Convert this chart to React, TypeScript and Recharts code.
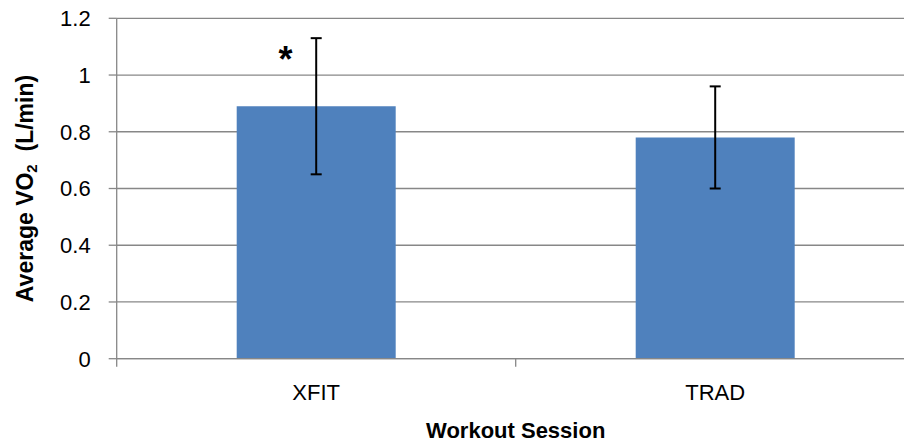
import { BarChart, Bar, XAxis, YAxis, CartesianGrid, ErrorBar, LabelList } from 'recharts';

const sessions = ['XFIT', 'TRAD'];
const avgVO2 = [0.89, 0.78];
const sdVO2 = [0.24, 0.18];
const significance = ['*', ''];
const yTicks = [0, 0.2, 0.4, 0.6, 0.8, 1, 1.2];

const data = sessions.map((name, i) => ({
    name,
    vo2: avgVO2[i],
    sd: sdVO2[i],
    sig: significance[i],
}));

const GRID = '#878787';
const FONT = '"Liberation Sans", Arial, sans-serif';

// tick line sits on the category boundary, label in the middle
function SessionTick(props: any) {
    const { x, y, payload } = props;
    const half = payload.offset ?? 0;
    return (
        <g>
            <line x1={x - half} y1={y - 8} x2={x - half} y2={y} stroke={GRID} strokeWidth={1.3} />
            <text x={x} y={y + 33} textAnchor="middle" fontSize={22} fill="#000" fontFamily={FONT}>
                {payload.value}
            </text>
        </g>
    );
}

function YTitle(props: any) {
    const { viewBox } = props;
    const cy = viewBox.y + viewBox.height / 2;
    const cx = 33;
    return (
        <text
            x={cx}
            y={cy}
            transform={`rotate(-90, ${cx}, ${cy})`}
            textAnchor="middle"
            fontSize={23}
            fontWeight="bold"
            fill="#000"
            fontFamily={FONT}
        >
            Average VO
            <tspan fontSize={15} dy={4}>2</tspan>
            <tspan dy={-4}>{'\u00a0 (L/min)'}</tspan>
        </text>
    );
}

function XTitle(props: any) {
    const { viewBox } = props;
    return (
        <text
            x={viewBox.x + viewBox.width / 2}
            y={viewBox.y + 79}
            textAnchor="middle"
            fontSize={22}
            fontWeight="bold"
            fill="#000"
            fontFamily={FONT}
        >
            Workout Session
        </text>
    );
}

function SigMark(props: any) {
    const { x, y, width, value } = props;
    if (!value) return null;
    return (
        <text x={x + width * 0.307} y={y - 34} textAnchor="middle" fontSize={36} fontWeight="bold" fill="#000" fontFamily={FONT}>
            {value}
        </text>
    );
}

export default function App() {
    return (
        <div style={{ position: 'absolute', left: 0, top: 0, width: 904, height: 446, overflow: 'hidden', background: '#fff' }}>
            <BarChart
                width={920}
                height={446}
                data={data}
                margin={{ top: 18.3, right: 5.3, left: 0, bottom: 0 }}
                barSize={159}
            >
                <CartesianGrid vertical={false} stroke={GRID} strokeWidth={1.3} />
                <XAxis
                    dataKey="name"
                    height={87.3}
                    stroke={GRID}
                    strokeWidth={1.3}
                    tickLine={false}
                    tickSize={8}
                    tickMargin={0}
                    tick={<SessionTick />}
                    label={<XTitle />}
                />
                <YAxis
                    width={116.7}
                    domain={[0, 1.2]}
                    ticks={yTicks}
                    stroke={GRID}
                    strokeWidth={1.3}
                    tickSize={8}
                    tickMargin={18}
                    tick={{ fill: '#000', fontSize: 22, fontFamily: FONT }}
                    label={<YTitle />}
                />
                <Bar dataKey="vo2" fill="#4F81BD" isAnimationActive={false}>
                    <ErrorBar dataKey="sd" width={5.5} stroke="#000" strokeWidth={2} direction="y" />
                    <LabelList dataKey="sig" content={<SigMark />} />
                </Bar>
            </BarChart>
        </div>
    );
}
